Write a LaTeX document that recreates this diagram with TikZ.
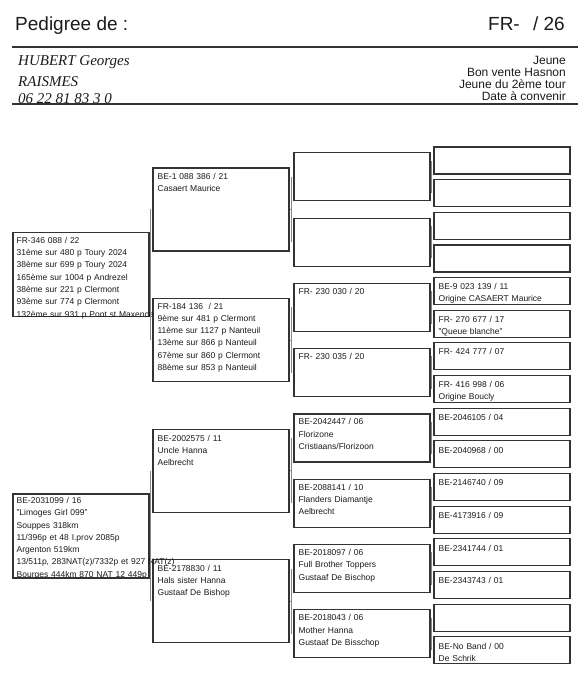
\documentclass[tikz,border=0pt]{standalone}
\usepackage{fontspec}
\setmainfont{Liberation Sans}
\newfontfamily\handfont{Liberation Serif}
\usetikzlibrary{calc}
\definecolor{boxline}{HTML}{333333}
\definecolor{linkline}{HTML}{888888}
\definecolor{ink}{HTML}{1A1A1A}

\begin{document}
\begin{tikzpicture}[x=1pt,y=-1pt]
        \tikzstyle{box}=[draw=boxline,line width=1.1pt,minimum width=136pt,inner sep=0pt]
        \tikzstyle{gen one}=[box,minimum height=84pt]
        \tikzstyle{gen two}=[box,minimum height=83pt]
        \tikzstyle{gen three}=[box,minimum height=48pt]
        \tikzstyle{gen four}=[box,minimum height=27pt,node distance=32.65pt]
        \tikzstyle{info}=[anchor=base west,inner sep=0pt,text width=220pt,align=left,text=ink,font=\fontsize{8.5}{12.3}\selectfont]
        \tikzstyle{link}=[draw=linkline,line width=0.8pt]
        \tikzstyle{rule}=[draw=boxline,line width=1.3pt]
        \useasboundingbox (0,0) rectangle (587,677);

        % header
        \node[anchor=base west,inner sep=0pt,text=ink,font=\fontsize{19}{19}\selectfont] (title) at (15,31) {Pedigree de :};
        \node[anchor=base east,inner sep=0pt,text=ink,font=\fontsize{19}{19}\selectfont] (ring) at (565,31) {FR-\hspace{0.7em}/ 26};
        \draw[rule] (12,47) -- (578,47);
        \node[anchor=base west,inner sep=0pt,text=ink,font=\handfont\itshape\fontsize{15}{17}\selectfont] (owner) at (18,66) {HUBERT Georges};
        \node[anchor=base west,inner sep=0pt,text=ink,font=\handfont\itshape\fontsize{15}{17}\selectfont] (town) at (18,86) {RAISMES};
        \node[anchor=base west,inner sep=0pt,text=ink,font=\handfont\itshape\fontsize{15}{17}\selectfont] (phone) at (18,103) {06 22 81 83 3 0};
        \node[anchor=north east,inner sep=0pt,align=right,text=ink,font=\fontsize{12}{12}\selectfont] (sale) at (566,56) {Jeune\\Bon vente Hasnon\\Jeune du 2ème tour\\Date à convenir};
        \draw[rule] (12,104) -- (578,104);

        % fourth generation
        \node[gen four] (d1) at (502,160.5) {};
        \node[gen four] (d2) [below of=d1] {};
        \node[gen four] (d3) [below of=d2] {};
        \node[gen four] (d4) [below of=d3] {};
        \node[gen four] (d5) [below of=d4] {};
        \node[gen four] (d6) [below of=d5] {};
        \node[gen four] (d7) [below of=d6] {};
        \node[gen four] (d8) [below of=d7] {};
        \node[gen four] (d9) [below of=d8] {};
        \node[gen four] (d10) [below of=d9] {};
        \node[gen four] (d11) [below of=d10] {};
        \node[gen four] (d12) [below of=d11] {};
        \node[gen four] (d13) [below of=d12] {};
        \node[gen four] (d14) [below of=d13] {};
        \node[gen four] (d15) [below of=d14] {};
        \node[gen four] (d16) [below of=d15] {};

        % third generation
        \node[gen three] (c1) at ($(d1)!.5!(d2)+(-140,0)$) {};
        \node[gen three] (c2) at ($(d3)!.5!(d4)+(-140,0)$) {};
        \node[gen three] (c3) at ($(d5)!.5!(d6)+(-140,0)$) {};
        \node[gen three] (c4) at ($(d7)!.5!(d8)+(-140,0)$) {};
        \node[gen three] (c5) at ($(d9)!.5!(d10)+(-140,0)$) {};
        \node[gen three] (c6) at ($(d11)!.5!(d12)+(-140,0)$) {};
        \node[gen three] (c7) at ($(d13)!.5!(d14)+(-140,0)$) {};
        \node[gen three] (c8) at ($(d15)!.5!(d16)+(-140,0)$) {};

        % parents and grandparents
        \node[gen two] (b1) at ($(c1)!.5!(c2)+(-141,0)$) {};
        \node[gen two] (b2) at ($(c3)!.5!(c4)+(-141,0)$) {};
        \node[gen two] (b3) at ($(c5)!.5!(c6)+(-141,0)$) {};
        \node[gen two] (b4) at ($(c7)!.5!(c8)+(-141,0)$) {};
        \node[gen one] (a1) at ($(b1)!.5!(b2)+(-140,0)$) {};
        \node[gen one] (a2) at ($(b3)!.5!(b4)+(-140,0)$) {};

        % texts
        \node[info] (a1-txt) at ([shift={(4,11)}]a1.north west) {FR-346 088 / 22\\31ème sur 480 p Toury 2024\\38ème sur 699 p Toury 2024\\165ème sur 1004 p Andrezel\\38ème sur 221 p Clermont\\93ème sur 774 p Clermont\\132ème sur 931 p Pont st Maxence};
        \node[info] (a2-txt) at ([shift={(4,10)}]a2.north west) {BE-2031099 / 16\\"Limoges Girl 099"\\Souppes 318km\\11/396p et 48 I.prov 2085p\\Argenton 519km\\13/511p, 283NAT(z)/7332p et 927 NAT(z)\\Bourges 444km 870 NAT 12 449p};
        \node[info] (b1-txt) at ([shift={(5,12)}]b1.north west) {BE-1 088 386 / 21\\Casaert Maurice};
        \node[info] (b2-txt) at ([shift={(5,11)}]b2.north west) {FR-184 136 \ / 21\\9ème sur 481 p Clermont\\11ème sur 1127 p Nanteuil\\13ème sur 866 p Nanteuil\\67ème sur 860 p Clermont\\88ème sur 853 p Nanteuil};
        \node[info] (b3-txt) at ([shift={(5,12.5)}]b3.north west) {BE-2002575 / 11\\Uncle Hanna\\Aelbrecht};
        \node[info] (b4-txt) at ([shift={(5,12)}]b4.north west) {BE-2178830 / 11\\Hals sister Hanna\\Gustaaf De Bishop};
        \node[info] (c3-txt) at ([shift={(5,11.5)}]c3.north west) {FR- 230 030 / 20};
        \node[info] (c4-txt) at ([shift={(5,11.5)}]c4.north west) {FR- 230 035 / 20};
        \node[info] (c5-txt) at ([shift={(5,11.5)}]c5.north west) {BE-2042447 / 06\\Florizone\\Cristiaans/Florizoon};
        \node[info] (c6-txt) at ([shift={(5,11.5)}]c6.north west) {BE-2088141 / 10\\Flanders Diamantje\\Aelbrecht};
        \node[info] (c7-txt) at ([shift={(5,11.5)}]c7.north west) {BE-2018097 / 06\\Full Brother Toppers\\Gustaaf De Bischop};
        \node[info] (c8-txt) at ([shift={(5,11.5)}]c8.north west) {BE-2018043 / 06\\Mother Hanna\\Gustaaf De Bisschop};
        \node[info] (d5-txt) at ([shift={(5,12.5)}]d5.north west) {BE-9 023 139 / 11\\Origine CASAERT Maurice};
        \node[info] (d6-txt) at ([shift={(5,12.5)}]d6.north west) {FR- 270 677 / 17\\"Queue blanche"};
        \node[info] (d7-txt) at ([shift={(5,12.5)}]d7.north west) {FR- 424 777 / 07};
        \node[info] (d8-txt) at ([shift={(5,12.5)}]d8.north west) {FR- 416 998 / 06\\Origine Boucly};
        \node[info] (d9-txt) at ([shift={(5,13)}]d9.north west) {BE-2046105 / 04};
        \node[info] (d10-txt) at ([shift={(5,13)}]d10.north west) {BE-2040968 / 00};
        \node[info] (d11-txt) at ([shift={(5,13)}]d11.north west) {BE-2146740 / 09};
        \node[info] (d12-txt) at ([shift={(5,13)}]d12.north west) {BE-4173916 / 09};
        \node[info] (d13-txt) at ([shift={(5,13)}]d13.north west) {BE-2341744 / 01};
        \node[info] (d14-txt) at ([shift={(5,13)}]d14.north west) {BE-2343743 / 01};
        \node[info] (d16-txt) at ([shift={(5,13)}]d16.north west) {BE-No Band / 00\\De Schrik};

        % brackets
        \draw[link] ([xshift=-2pt]b1.west) -- ([xshift=-2pt]b2.west) (a1.east) -- ([xshift=-2pt]a1.east -| b1.west);
        \draw[link] ([xshift=-2pt]b3.west) -- ([xshift=-2pt]b4.west) (a2.east) -- ([xshift=-2pt]a2.east -| b3.west);
        \draw[link] ([xshift=-2pt]c1.west) -- ([xshift=-2pt]c2.west) (b1.east) -- ([xshift=-2pt]b1.east -| c1.west);
        \draw[link] ([xshift=-2pt]c3.west) -- ([xshift=-2pt]c4.west) (b2.east) -- ([xshift=-2pt]b2.east -| c3.west);
        \draw[link] ([xshift=-2pt]c5.west) -- ([xshift=-2pt]c6.west) (b3.east) -- ([xshift=-2pt]b3.east -| c5.west);
        \draw[link] ([xshift=-2pt]c7.west) -- ([xshift=-2pt]c8.west) (b4.east) -- ([xshift=-2pt]b4.east -| c7.west);
        \draw[link] ([xshift=-2pt]d1.west) -- ([xshift=-2pt]d2.west) (c1.east) -- ([xshift=-2pt]c1.east -| d1.west);
        \draw[link] ([xshift=-2pt]d3.west) -- ([xshift=-2pt]d4.west) (c2.east) -- ([xshift=-2pt]c2.east -| d3.west);
        \draw[link] ([xshift=-2pt]d5.west) -- ([xshift=-2pt]d6.west) (c3.east) -- ([xshift=-2pt]c3.east -| d5.west);
        \draw[link] ([xshift=-2pt]d7.west) -- ([xshift=-2pt]d8.west) (c4.east) -- ([xshift=-2pt]c4.east -| d7.west);
        \draw[link] ([xshift=-2pt]d9.west) -- ([xshift=-2pt]d10.west) (c5.east) -- ([xshift=-2pt]c5.east -| d9.west);
        \draw[link] ([xshift=-2pt]d11.west) -- ([xshift=-2pt]d12.west) (c6.east) -- ([xshift=-2pt]c6.east -| d11.west);
        \draw[link] ([xshift=-2pt]d13.west) -- ([xshift=-2pt]d14.west) (c7.east) -- ([xshift=-2pt]c7.east -| d13.west);
        \draw[link] ([xshift=-2pt]d15.west) -- ([xshift=-2pt]d16.west) (c8.east) -- ([xshift=-2pt]c8.east -| d15.west);
\end{tikzpicture}
\end{document}
